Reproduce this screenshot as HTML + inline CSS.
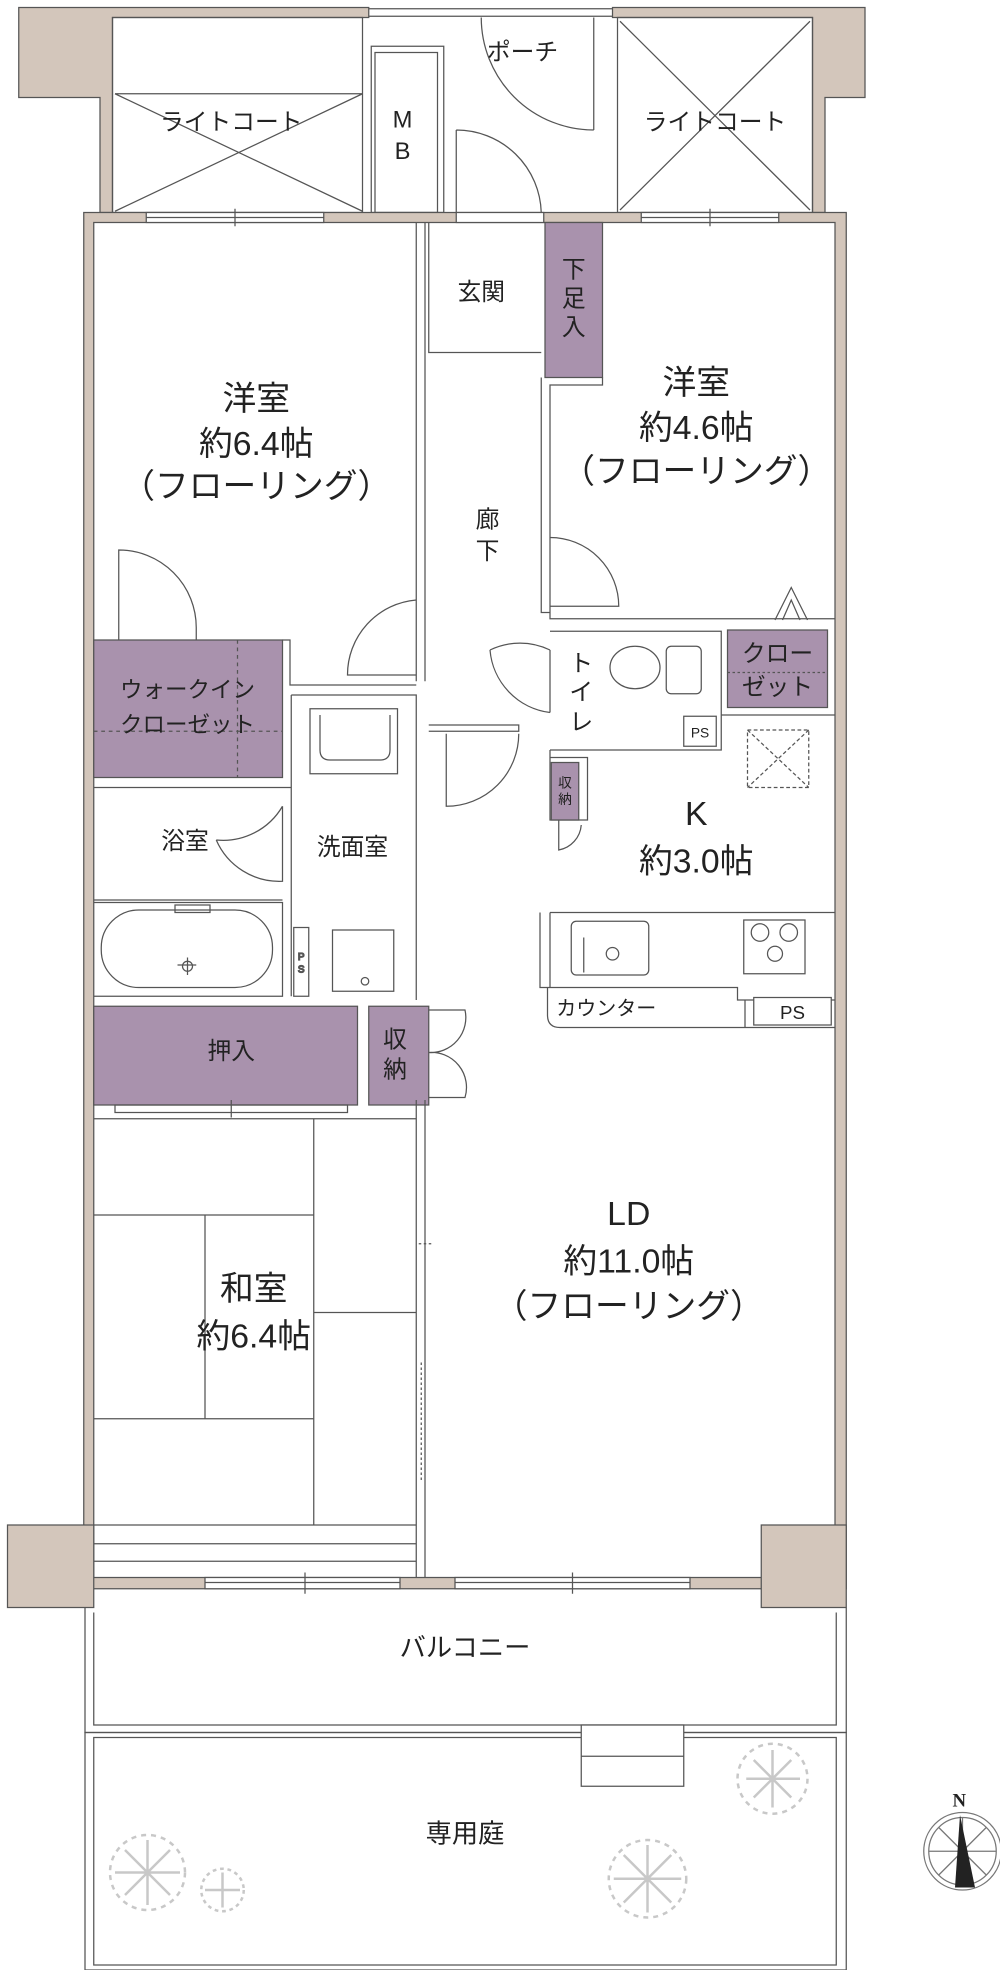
<!DOCTYPE html>
<html><head><meta charset="utf-8"><style>
html,body{margin:0;padding:0;background:#fff;}
svg{display:block;}
text{font-family:"Liberation Sans","Noto Sans CJK JP",sans-serif;fill:#222;}
</style></head><body>
<svg width="1000" height="1970" viewBox="0 0 800 1576" preserveAspectRatio="none" xmlns="http://www.w3.org/2000/svg">
<g stroke="#555" stroke-width="1" fill="none">
<!-- top tan blocks -->
<path d="M15 6 H295 V14 H90 V170 H80 V78 H15 Z" fill="#d3c6bb"/>
<path d="M490 6 H692 V78 H660 V170 H650 V14 H490 Z" fill="#d3c6bb"/>
<rect x="90" y="14" width="200" height="156"/>
<rect x="494" y="14" width="156" height="156"/>
<path d="M92 75 H290 M92 75 L290 169 M290 75 L92 169"/>
<path d="M496 17 L648 168 M648 17 L496 168"/>
<path d="M295 7 H490 M295 13 H490"/>
<!-- MB -->
<rect x="297" y="37" width="58" height="133"/><rect x="300" y="42" width="50" height="128"/>
<!-- porch door -->
<path d="M475 14 V104 M385 14 A90 90 0 0 0 475 104"/>
<path d="M365 104 V170 M365 104 A68 68 0 0 1 433 170"/>
<!-- main outer walls -->
<rect x="67" y="170" width="610" height="1101" fill="#d3c6bb"/>
<rect x="75" y="178" width="593" height="1084" fill="#fff"/>
<rect x="117" y="170" width="142" height="8" fill="#fff"/><line x1="117" y1="174" x2="259" y2="174"/><line x1="188" y1="167" x2="188" y2="181"/>
<rect x="513" y="170" width="110" height="8" fill="#fff"/><line x1="513" y1="174" x2="623" y2="174"/><line x1="568" y1="167" x2="568" y2="181"/>
<rect x="365" y="170" width="70" height="8" fill="#fff"/>
<!-- bottom corner blocks -->
<rect x="6" y="1220" width="69" height="66" fill="#d3c6bb"/>
<rect x="609" y="1220" width="68" height="66" fill="#d3c6bb"/>
<rect x="164" y="1262" width="156" height="9" fill="#fff"/><line x1="164" y1="1266" x2="320" y2="1266"/><line x1="244" y1="1258" x2="244" y2="1275"/>
<rect x="364" y="1262" width="188" height="9" fill="#fff"/><line x1="364" y1="1266" x2="552" y2="1266"/><line x1="458" y1="1258" x2="458" y2="1275"/>
<!-- balcony / garden -->
<path d="M68 1286 V1386 H677 V1286 M75 1290 V1380 H669 V1290"/>
<rect x="68" y="1386" width="609" height="190"/>
<rect x="75" y="1390" width="594" height="182"/>
<rect x="465" y="1380" width="82" height="49" fill="#fff"/><line x1="465" y1="1405" x2="547" y2="1405"/>
<!-- interior partitions -->
<path d="M333 178 V545 M340 178 V545"/>
<path d="M343 178 V282 H433"/>
<rect x="436" y="178" width="46" height="124" fill="#a992ad"/>
<path d="M433 302 V490 H440 V308 H482 V302 M440 490 V495 H668"/>
<!-- left room bottom / WIC -->
<rect x="75" y="512" width="151" height="110" fill="#a992ad"/>
<path d="M190 512 V622 M75 585 H226" stroke-dasharray="3 3"/>
<path d="M95 512 V440 A62 62 0 0 1 157 502 V512"/>
<path d="M226 512 H232 V548 H333"/>
<path d="M333 480 A60 60 0 0 0 278 540 H333"/>
<!-- wash -->
<path d="M233 556 H333 V800 M233 556 V797 M226 630 H233 M75 630 H226 M75 720 H226"/>
<rect x="248" y="567" width="70" height="52"/><path d="M256 572 V600 Q256 608 264 608 H304 Q312 608 312 600 V572"/>
<path d="M226 645 A55 55 0 0 1 173 672 M226 645 V705 A55 55 0 0 1 173 672"/>
<rect x="235" y="742" width="12" height="55"/><text x="241" y="768" text-anchor="middle" style="font-size:8px">P</text><text x="241" y="778" style="font-size:8px" text-anchor="middle">S</text>
<rect x="266" y="744" width="49" height="49"/><circle cx="292" cy="785" r="3"/>
<path d="M75 722 H226 V797 H75"/>
<rect x="81" y="728" width="137" height="62" rx="30"/><path d="M140 724 H168 V730 H140 Z M142 772 H157 M150 766 V780"/><circle cx="150" cy="773" r="4"/>
<!-- storages -->
<rect x="75" y="805" width="211" height="79" fill="#a992ad"/>
<rect x="295" y="805" width="48" height="79" fill="#a992ad"/>
<path d="M343 808 H372 A28 28 0 0 1 343 842 M343 842 A28 28 0 0 1 372 878 H343"/>
<path d="M92 884 H278 V890 H92 Z M185 880 V894"/>
<!-- washitsu -->
<path d="M75 895 H333 M251 895 V1220 M75 972 H251 M164 972 V1135 M75 1135 H251 M251 1050 H333"/>
<path d="M75 1220 H333 M75 1235 H333 M75 1249 H333 M333 880 V1262 M340 880 V1262"/>
<path d="M335 995 H345 M337 1090 V1185" stroke-dasharray="2 2"/>
<!-- corridor right side doors -->
<path d="M440 430 A55 55 0 0 1 495 485 H440"/>
<path d="M440 520 V570 M440 520 A55 55 0 0 0 392 520 M392 520 A55 55 0 0 0 440 570"/>
<path d="M343 580 H415 V585 H343 M357 587 V645 A58 58 0 0 0 415 587"/>
<!-- toilet -->
<path d="M440 505 H577 V600 H440"/>
<ellipse cx="508" cy="534" rx="20" ry="17"/><rect x="533" y="517" width="28" height="38" rx="4"/>
<rect x="547" y="573" width="26" height="24"/>
<rect x="582" y="504" width="80" height="62" fill="#a992ad"/>
<path d="M582 538 H662" stroke-dasharray="2 2"/>
<path d="M620 496 L633 470 L646 496 M626 496 L633 480 L640 496"/>
<path d="M577 572 H668"/>
<rect x="598" y="584" width="49" height="46" stroke-dasharray="3 2"/><path d="M598 584 L647 630 M647 584 L598 630" stroke-dasharray="3 2"/>
<path d="M440 600 V656 H470 V606 H440"/><rect x="441" y="610" width="22" height="46" fill="#a992ad"/>
<path d="M447 656 V680 A22 22 0 0 0 465 660"/>
<!-- kitchen -->
<path d="M432 730 V790 H590 V800 H668 M440 730 H668 M440 730 V790"/>
<rect x="457" y="737" width="62" height="43" rx="4"/><circle cx="490" cy="763" r="5"/><path d="M467 750 V778"/>
<rect x="595" y="736" width="49" height="43"/><circle cx="608" cy="746" r="7"/><circle cx="631" cy="746" r="7"/><circle cx="620" cy="763" r="6"/>
<path d="M438 790 V812 Q438 822 448 822 H596 V800 M596 822 H668"/>
<rect x="603" y="798" width="62" height="22" fill="#fff"/>
</g>
<!-- trees -->
<g stroke="#c8c8c8" stroke-width="2" fill="none">
<circle cx="618" cy="1423" r="28" stroke-dasharray="4 4"/><path d="M618 1400 V1446 M597 1423 H640 M603 1408 L633 1438 M633 1408 L603 1438"/>
<circle cx="118" cy="1498" r="30" stroke-dasharray="4 4"/><path d="M118 1472 V1524 M92 1498 H144 M100 1480 L136 1516 M136 1480 L100 1516"/>
<circle cx="178" cy="1512" r="17" stroke-dasharray="3 3"/><path d="M178 1498 V1526 M164 1512 H192"/>
<circle cx="518" cy="1503" r="31" stroke-dasharray="4 4"/><path d="M518 1476 V1530 M491 1503 H545 M499 1484 L537 1522 M537 1484 L499 1522"/>
</g>
<!-- compass -->
<g stroke="#777" fill="none"><ellipse cx="770" cy="1481" rx="31" ry="31"/><ellipse cx="770" cy="1481" rx="27" ry="27"/>
<path d="M743 1481 H797 M770 1454 V1508 M751 1462 L789 1500 M789 1462 L751 1500"/></g>
<path d="M768 1452 L780 1510 L764 1510 Z" fill="#222"/>
<text x="762" y="1445" style="font-size:15px;font-family:'Liberation Serif',serif;font-weight:bold">N</text>
<!-- labels -->
<g style="font-size:19px" text-anchor="middle">
<text x="185" y="104">ライトコート</text>
<text x="572" y="104">ライトコート</text>
<text x="418" y="48">ポーチ</text>
<text x="322" y="102">M</text><text x="322" y="127">B</text>
<text x="385" y="240">玄関</text>
<text x="459" y="222">下</text><text x="459" y="245">足</text><text x="459" y="268">入</text>
<text x="390" y="422">廊</text><text x="390" y="447">下</text>
<text x="465" y="537">ト</text><text x="465" y="560">イ</text><text x="465" y="584">レ</text>
<text x="622" y="529">クロー</text><text x="622" y="556">ゼット</text>
<text x="150" y="558" style="font-size:18px">ウォークイン</text><text x="150" y="586" style="font-size:18px">クローゼット</text>
<text x="148" y="679">浴室</text><text x="282" y="684">洗面室</text>
<text x="185" y="847">押入</text>
<text x="316" y="838">収</text><text x="316" y="862">納</text>
<text x="485" y="812" style="font-size:16px">カウンター</text>
</g>
<g style="font-size:11px" text-anchor="middle"><text x="452" y="630">収</text><text x="452" y="643">納</text>
<text x="560" y="590">PS</text><text x="634" y="815" style="font-size:15px">PS</text></g>
<g style="font-size:27px" text-anchor="middle">
<text x="205" y="328">洋室</text><text x="205" y="364">約6.4帖</text><text x="205" y="398">（フローリング）</text>
<text x="557" y="315">洋室</text><text x="557" y="351">約4.6帖</text><text x="557" y="386">（フローリング）</text>
<text x="557" y="660">K</text><text x="557" y="698">約3.0帖</text>
<text x="503" y="980">LD</text><text x="503" y="1018">約11.0帖</text><text x="503" y="1054">（フローリング）</text>
<text x="203" y="1040">和室</text><text x="203" y="1078">約6.4帖</text>
</g>
<g style="font-size:21px" text-anchor="middle"><text x="372" y="1325">バルコニー</text><text x="372" y="1474">専用庭</text></g>
</svg>
</body></html>
